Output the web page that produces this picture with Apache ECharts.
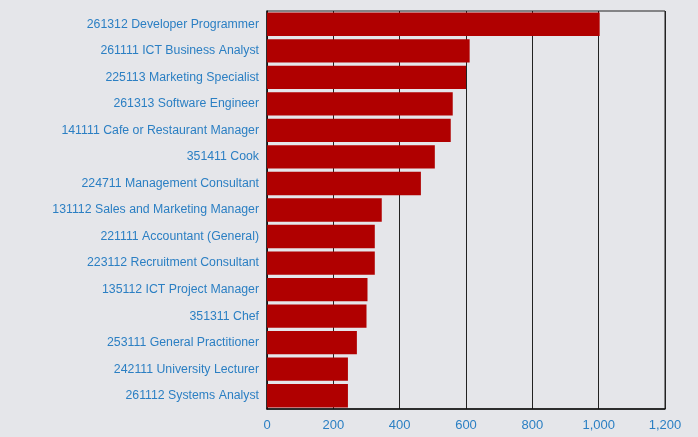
<!DOCTYPE html>
<html>
<head>
<meta charset="utf-8">
<script src="https://cdn.jsdelivr.net/npm/echarts@6/dist/echarts.min.js"></script>
<style>
  html, body { margin: 0; padding: 0; background: #e5e6ea; }
  #main { width: 698px; height: 437px; }
</style>
</head>
<body>
<div id="main"></div>
<script>
// occupations, top to bottom
var occupations = [
    '261312 Developer Programmer',
    '261111 ICT Business Analyst',
    '225113 Marketing Specialist',
    '261313 Software Engineer',
    '141111 Cafe or Restaurant Manager',
    '351411 Cook',
    '224711 Management Consultant',
    '131112 Sales and Marketing Manager',
    '221111 Accountant (General)',
    '223112 Recruitment Consultant',
    '135112 ICT Project Manager',
    '351311 Chef',
    '253111 General Practitioner',
    '242111 University Lecturer',
    '261112 Systems Analyst'
];
var counts = [1003, 611, 600, 560, 554, 506, 464, 346, 325, 325, 303, 300, 271, 244, 244];
var xTicks = [0, 200, 400, 600, 800, 1000, 1200];

var myChart = echarts.init(document.getElementById('main'));

var option = {
    backgroundColor: '#e5e6ea',
    animation: false,
    grid: {
        left: 267,
        right: 33,
        top: 11,
        bottom: 28,
        show: true,
        borderColor: '#222',
        borderWidth: 1
    },
    xAxis: {
        type: 'value',
        min: xTicks[0],
        max: xTicks[xTicks.length - 1],
        interval: xTicks[1] - xTicks[0],
        axisLine: { show: true, lineStyle: { color: '#111', width: 1.5 } },
        axisTick: { show: false },
        splitLine: { show: true, lineStyle: { color: '#222', width: 1 } },
        axisLabel: {
            color: '#2b7fc3',
            fontFamily: 'Liberation Sans, Arial, sans-serif',
            fontSize: 13,
            margin: 10,
            formatter: function (v) { return v.toLocaleString('en-US'); }
        }
    },
    yAxis: {
        type: 'category',
        data: occupations,
        inverse: true,
        axisLine: { show: true, lineStyle: { color: '#111', width: 1.5 } },
        axisTick: { show: false },
        axisLabel: {
            color: '#2b7fc3',
            fontFamily: 'Liberation Sans, Arial, sans-serif',
            fontSize: 12.3,
            margin: 8
        }
    },
    series: [{
        type: 'bar',
        data: counts,
        barCategoryGap: '12%',
        itemStyle: { color: '#b00000' }
    }]
};

myChart.setOption(option);
</script>
</body>
</html>
